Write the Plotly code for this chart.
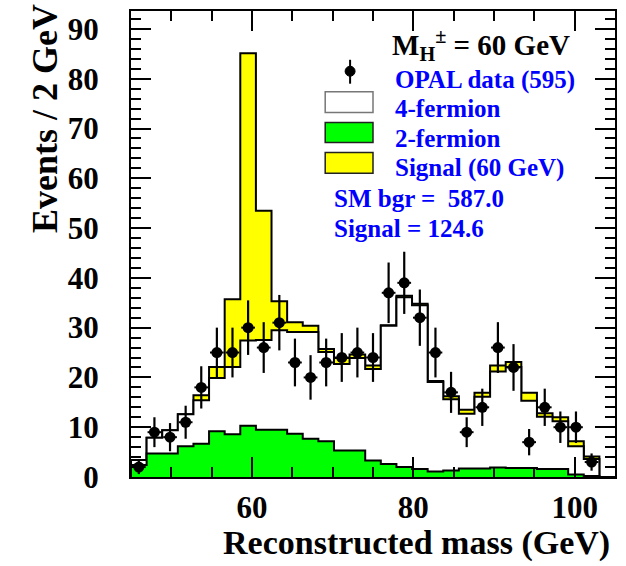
import numpy as np
import plotly.graph_objects as go

# ---------------- data ----------------
x_lo, x_hi, n_bins = 45.0, 105.0, 31
two_fermion = [2.4, 4.7, 4.7, 6.2, 6.7, 9.2, 8.6, 10.3, 9.5, 9.5, 8.7, 7.7, 7.2, 5.3, 5.3,
               3.3, 2.6, 2.0, 1.6, 1.1, 1.3, 1.7, 1.7, 1.9, 1.8, 1.8, 1.6, 1.6, 0.5, 0.2, 0.0]
four_fermion = [1.0, 3.2, 4.7, 6.4, 8.7, 10.7, 13.5, 17.1, 18.0, 20.0, 20.4, 21.4, 17.9, 17.4, 18.6,
                18.4, 27.8, 34.1, 32.9, 18.0, 14.3, 11.0, 14.4, 19.3, 20.3, 13.5, 10.5, 9.6, 5.7, 3.4, 0.0]
signal = [0.0, 0.0, 0.0, 0.0, 1.0, 2.2, 13.6, 57.7, 26.0, 5.8, 2.0, 1.3, 0.6, 1.2, 0.7,
          0.7, 0.1, 0.3, 0.3, 0.2, 0.6, 0.8, 0.8, 1.2, 1.0, 1.6, 0.7, 0.8, 1.0, 0.5, 0.0]
data_counts = [2, 9, 8, 11, 18, 25, 25, 30, 26, 31, 23, 20, 23, 24, 25,
               24, 37, 39, 32, 25, 17, 9, 14, 26, 22, 7, 14, 10, 10, 3, 0]
x_ticks_major = [60, 80, 100]
y_ticks_major = [0, 10, 20, 30, 40, 50, 60, 70, 80, 90]
legend_labels = ["OPAL data (595)", "4-fermion", "2-fermion", "Signal (60 GeV)"]
info_lines = ["SM bgr =  587.0", "Signal = 124.6"]
title_mass = "M<sub>H</sub><sup>±</sup> = 60 GeV"

# ---------------- derived ----------------
edges = np.linspace(x_lo, x_hi, n_bins + 1)
centers = 0.5 * (edges[:-1] + edges[1:])
g = np.array(two_fermion)
bg = g + np.array(four_fermion)
tot = bg + np.array(signal)
d = np.array(data_counts, dtype=float)


def step(vals):
    xs = np.concatenate([[edges[0]], edges])
    ys = np.concatenate([[0.0], vals, [0.0]])
    return xs, ys


fig = go.Figure()
for vals, col in [(tot, "#ffff00"), (bg, "#ffffff"), (g, "#00ff00")]:
    xs, ys = step(vals)
    fig.add_trace(go.Scatter(x=xs, y=ys, mode="lines", line=dict(shape="hv", color="black", width=2),
                             fill="tozeroy", fillcolor=col, hoverinfo="skip", showlegend=False))

mask = d > 0
fig.add_trace(go.Scatter(
    x=centers[mask], y=d[mask], mode="markers",
    marker=dict(color="black", size=11),
    error_y=dict(type="data", array=np.sqrt(d[mask]), color="black", thickness=2.2, width=0),
    error_x=dict(type="constant", value=0.85, color="black", thickness=2, width=0),
    showlegend=False))

# ---------------- layout ----------------
L, R, T, B = 131, 617, 9, 477
W, H = 626, 566
pw, ph = R - L, B - T


def px(xp):
    return (xp - L) / pw


def py(yp):
    return (B - yp) / ph


serif = "Liberation Serif, Times New Roman, serif"
axis_common = dict(showline=True, linecolor="black", linewidth=2, mirror="ticks",
                   ticks="inside", ticklen=20, tickwidth=2, tickcolor="black",
                   showgrid=False, zeroline=False,
                   tickfont=dict(family=serif, size=31, color="black"))

fig.update_layout(
    width=W, height=H, margin=dict(l=L, r=W - R, t=T, b=H - B),
    paper_bgcolor="white", plot_bgcolor="white", showlegend=False,
    xaxis=dict(range=[x_lo, x_hi], tickmode="array", tickvals=x_ticks_major,
               ticktext=["<b>%d</b>" % v for v in x_ticks_major],
               minor=dict(dtick=5, ticks="inside", ticklen=10, tickwidth=2, tickcolor="black"),
               ticklabelstandoff=2, **axis_common),
    yaxis=dict(range=[0, 93.6], tickmode="array", tickvals=y_ticks_major,
               ticktext=["<b>%d</b>" % v for v in y_ticks_major],
               minor=dict(dtick=2, ticks="inside", ticklen=10, tickwidth=2, tickcolor="black"),
               ticklabelstandoff=24, **axis_common),
)

ann = []
ann.append(dict(text="<b>Reconstructed mass (GeV)</b>", x=px(614), y=py(543), xref="paper", yref="paper",
                xanchor="right", yanchor="middle", showarrow=False,
                font=dict(family=serif, size=34, color="black")))
ann.append(dict(text="<b>Events / 2 GeV</b>", x=px(44), y=py(117), xref="paper", yref="paper",
                textangle=-90, xanchor="center", yanchor="middle", showarrow=False,
                font=dict(family=serif, size=36, color="black")))
ann.append(dict(text="<b>" + title_mass + "</b>", x=px(391), y=py(43), xref="paper", yref="paper",
                xanchor="left", yanchor="middle", showarrow=False,
                font=dict(family=serif, size=29, color="black")))
for lab, yc in zip(legend_labels, [78, 107, 137, 167]):
    ann.append(dict(text="<b>" + lab + "</b>", x=px(394), y=py(yc), xref="paper", yref="paper",
                    xanchor="left", yanchor="middle", showarrow=False,
                    font=dict(family=serif, size=25, color="#0000ff")))
for lab, yc in zip(info_lines, [197, 227]):
    ann.append(dict(text="<b>" + lab + "</b>", x=px(333), y=py(yc), xref="paper", yref="paper",
                    xanchor="left", yanchor="middle", showarrow=False,
                    font=dict(family=serif, size=25, color="#0000ff")))
fig.update_layout(annotations=ann)

shapes = []
# legend: data marker
shapes.append(dict(type="line", xref="paper", yref="paper", x0=px(351), x1=px(351), y0=py(58), y1=py(82),
                   line=dict(color="black", width=2)))
shapes.append(dict(type="circle", xref="paper", yref="paper", x0=px(346), x1=px(356), y0=py(64.5), y1=py(74.5),
                   fillcolor="black", line=dict(color="black", width=1)))
for (y0, y1, fc, lc) in [(90, 111, "#ffffff", "#777777"), (121, 141, "#00ff00", "#222222"),
                         (151, 172, "#ffff00", "#222222")]:
    shapes.append(dict(type="rect", xref="paper", yref="paper", x0=px(326), x1=px(374),
                       y0=py(y1), y1=py(y0), fillcolor=fc, line=dict(color=lc, width=1.5)))
fig.update_layout(shapes=shapes)

fig.write_html("out.html")
